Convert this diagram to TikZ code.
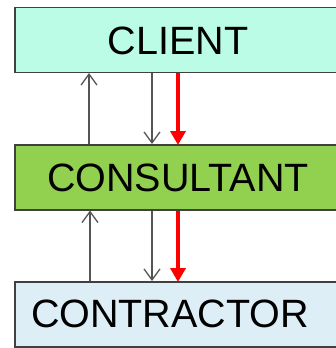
\documentclass[tikz,border=0pt]{standalone}
\usepackage{fontspec}
\setmainfont{Liberation Sans}
\usetikzlibrary{arrows.meta}
\definecolor{clientfill}{HTML}{BBFCE7}
\definecolor{consfill}{HTML}{92D050}
\definecolor{contrfill}{HTML}{DDEEF7}
\definecolor{edge}{HTML}{404040}
\definecolor{linegray}{HTML}{555555}
\tikzset{
  box/.style={draw=edge, line width=1.5pt, minimum width=328pt, minimum height=65pt, inner sep=0pt, anchor=north west},
  label text/.style={inner sep=0pt, font=\fontsize{39.5}{42}\selectfont},
  thin arrow/.style={draw=linegray, line width=1.3pt, -{Straight Barb[length=11pt,width=16pt]}},
  red arrow/.style={draw=red, line width=4pt, -{Triangle[length=14pt,width=15pt]}, shorten >=-1pt}
}
\begin{document}
\begin{tikzpicture}[x=1pt,y=1pt]
\useasboundingbox (0,0) rectangle (335,-348);
\node[box, fill=clientfill] (client) at (14,-6.5) {};
\node[label text] (clientlabel) at (178,-40.5) {CLIENT};
\node[box, fill=consfill] (cons) at (14,-144) {};
\node[label text] (conslabel) at (178,-177.5) {CONSULTANT};
\node[box, fill=contrfill] (contr) at (14,-281) {};
\node[label text] (contrlabel) at (170,-313.5) {CONTRACTOR};
\coordinate (ua) at (89,0);
\coordinate (ub) at (90,0);
\coordinate (d) at (152,0);
\coordinate (r) at (178,0);
\draw[thin arrow] (cons.north -| ua) -- (client.south -| ua);
\draw[thin arrow] (client.south -| d) -- (cons.north -| d);
\draw[red arrow] (client.south -| r) -- (cons.north -| r);
\draw[thin arrow] (contr.north -| ub) -- (cons.south -| ub);
\draw[thin arrow] (cons.south -| d) -- (contr.north -| d);
\draw[red arrow] (cons.south -| r) -- (contr.north -| r);
\end{tikzpicture}
\end{document}
